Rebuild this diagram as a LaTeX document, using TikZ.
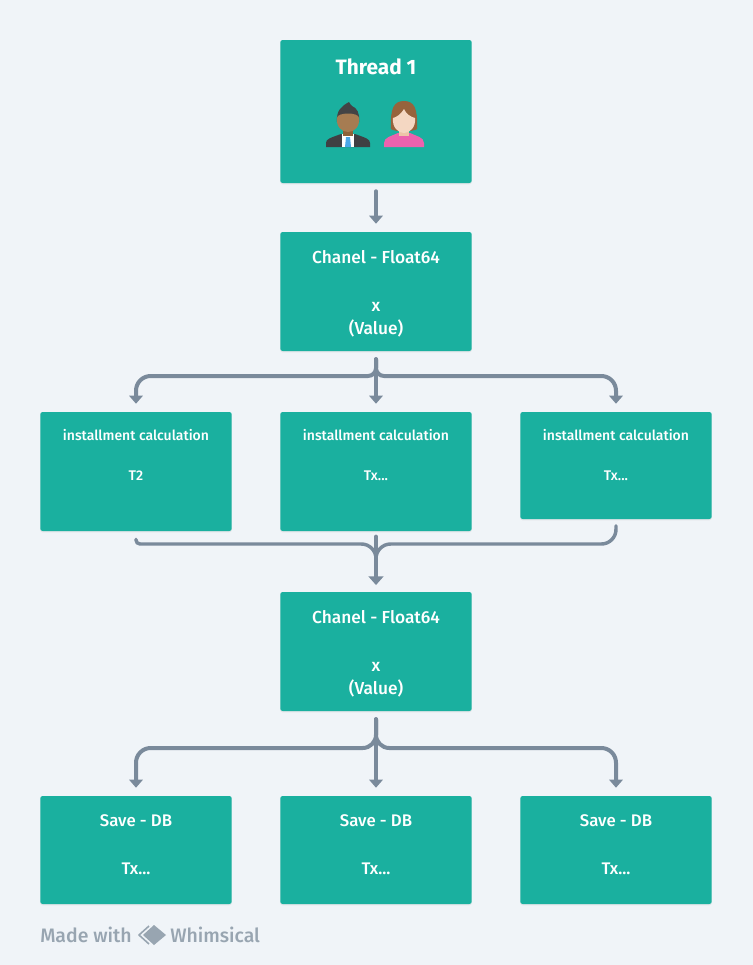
\documentclass[tikz,border=0pt]{standalone}
\usepackage{fontspec}
\setmainfont{Fira Sans Medium}[BoldFont={Fira Sans Bold}]
\usetikzlibrary{arrows.meta,shadows,positioning}
\definecolor{pagebg}{HTML}{F0F4F8}
\definecolor{teal}{HTML}{1AB09F}
\definecolor{flowgrey}{HTML}{7A8A9B}
\definecolor{markgrey}{HTML}{98A5B1}
\definecolor{suit}{HTML}{3F4043}
\definecolor{hairdark}{HTML}{434345}
\definecolor{skindark}{HTML}{A67C52}
\definecolor{neckdark}{HTML}{8C6239}
\definecolor{tieblue}{HTML}{4AA8E8}
\definecolor{hairbrown}{HTML}{96633C}
\definecolor{skinlight}{HTML}{F4D7C2}
\definecolor{neckskin}{HTML}{EDC5A8}
\definecolor{dresspink}{HTML}{EC62AE}
\tikzset{
    box/.style = {rectangle,
                    rounded corners=1.8pt,
                    fill=teal,
                    text=white,
                    align=center,
                    inner sep=0pt,
                    minimum width=143.6pt,
                    drop shadow={shadow xshift=0pt,shadow yshift=-1pt,opacity=.12},
                    font=\fontsize{10.5pt}{18pt}\selectfont},
    chan/.style = {box,
                    minimum height=89.25pt,
                    font=\fontsize{13pt}{17.4pt}\selectfont},
    calc/.style = {box,
                    minimum height=89.25pt},
    save/.style = {box,
                    minimum height=81pt,
                    font=\fontsize{12.6pt}{18pt}\selectfont},
    flow/.style = {draw=flowgrey,
                    line width=3pt,
                    line cap=round,
                    rounded corners=11pt,
                    shorten >=6pt,
                    shorten <=6pt,
                    -{Triangle[width=10pt,length=6pt]}},
    merge/.style = {flow,
                    -,
                    line width=2.6pt,
                    shorten >=0pt},
    footer/.style = {text=markgrey,
                    inner sep=0pt,
                    anchor=base west,
                    font=\fontsize{14.6pt}{18pt}\selectfont},
    node distance=180pt}
\begin{document}
\begin{tikzpicture}[x=.75pt,y=-.75pt]
    \path[use as bounding box,fill=pagebg] (0,0) rectangle (753,965);

    \node[box,minimum height=107.25pt,font=\bfseries\fontsize{15.6pt}{16pt}\selectfont,
          text height=9pt] (thread) at (376,111.5) {\raisebox{32.3pt}{Thread 1}};
    \node[chan] (chanone) at (376,291.5) {Chanel - Float64\\[18.7pt]x\\(Value)\\[-18.5pt]\mbox{}};

    \node[calc] (calcone) at (136,471.5) {installment calculation\\[12pt]T2\\[7.5pt]\mbox{}};
    \node[calc] (calctwo) [right of=calcone] {installment calculation\\[12pt]Tx...\\[7.5pt]\mbox{}};
    \node[calc,minimum height=80.25pt] (calcthree) at (616,465.5) {installment calculation\\[12pt]Tx...\\[-2.5pt]\mbox{}};

    \node[chan] (chantwo) at (376,651.5) {Chanel - Float64\\[18.7pt]x\\(Value)\\[-18.5pt]\mbox{}};

    \node[save] (saveone) at (136,850) {Save - DB\\[18pt]Tx...\\[-9.8pt]\mbox{}};
    \node[save] (savetwo) [right of=saveone] {Save - DB\\[18pt]Tx...\\[-9.8pt]\mbox{}};
    \node[save] (savethree) [right of=savetwo] {Save - DB\\[18pt]Tx...\\[-9.8pt]\mbox{}};

    % people in the thread box
    \fill[suit] (326,147) -- (326,143) .. controls (326,139) and (330,138) .. (341,134) -- (355,134)
        .. controls (366,138) and (370,139) .. (370,143) -- (370,147) -- cycle;
    \fill[white] (342,134) -- (354,134) -- (354,147) -- (342,147) -- cycle;
    \fill[tieblue] (346,137) -- (350,137) -- (351,147) -- (345,147) -- cycle;
    \fill[hairdark] (337,122) .. controls (336,110) and (342,106) .. (349,102) .. controls (351,104) and (350,105) .. (352,106)
        .. controls (357,108) and (360,113) .. (359,122) -- cycle;
    \fill[neckdark] (343,128) rectangle (353,136);
    \fill[skindark] (337,118) .. controls (337,112) and (359,112) .. (359,118)
        .. controls (360,127) and (354,132) .. (348,132) .. controls (342,132) and (336,127) .. (337,118) -- cycle;

    \fill[dresspink] (384,147) -- (384,143) .. controls (384,137) and (392,136) .. (398,133)
        -- (410,133) .. controls (416,136) and (424,137) .. (424,143) -- (424,147) -- cycle;
    \fill[hairbrown] (391,129) .. controls (390,108) and (394,101) .. (404,101)
        .. controls (414,101) and (418,108) .. (417,129) .. controls (414,132) and (394,132) .. (391,129) -- cycle;
    \fill[neckskin] (399,128) rectangle (409,136);
    \fill[skinlight] (393,118) .. controls (397,117) and (401,114) .. (404,109)
        .. controls (406,114) and (411,117) .. (415,118) .. controls (416,127) and (410,133) .. (404,133)
        .. controls (398,133) and (392,127) .. (393,118) -- cycle;

    % connectors
    \coordinate (busone) at (376,376);
    \coordinate (bustwo) at (376,544);
    \coordinate (busthree) at (376,748);
    \coordinate (forkend) at (376,562);

    \path[flow] (thread) -- (chanone);
    \path[flow,rounded corners=6pt] (chanone.south) -- (busone) [rounded corners=11pt] -- (busone -| calcone) -- (calcone.north);
    \path[flow] (chanone.south) -- (calctwo.north);
    \path[flow,rounded corners=6pt] (chanone.south) -- (busone) [rounded corners=11pt] -- (busone -| calcthree) -- (calcthree.north);

    \path[merge,rounded corners=3pt] (calcone.south) -- (calcone.south |- bustwo) [rounded corners=11pt] -- (bustwo) -- (forkend);
    \path[merge,shorten <=5pt] (calcthree.south) -- (calcthree.south |- bustwo) -- (bustwo) -- (forkend);
    \path[flow,line width=3.6pt,shorten >=5pt,shorten <=-1pt,-{Triangle[width=11pt,length=6.5pt]}] (forkend |- calctwo.south) ++(0,7) -- (chantwo.north);

    \path[flow,rounded corners=10pt] (chantwo.south) -- (busthree) [rounded corners=11pt] -- (busthree -| saveone) -- (saveone.north);
    \path[flow] (chantwo.south) -- (savetwo.north);
    \path[flow,rounded corners=10pt] (chantwo.south) -- (busthree) [rounded corners=11pt] -- (busthree -| savethree) -- (savethree.north);

    % footer
    \node[footer] (madewith) at (40,942) {Made with};
    \fill[markgrey] (154,925) -- (166,935) -- (154,945) -- (143,935) -- cycle;
    \draw[markgrey,line width=1.2pt,line join=round] (149,926) -- (139,935) -- (149,944);
    \node[footer] (whimsical) at (170,942) {Whimsical};
\end{tikzpicture}
\end{document}
